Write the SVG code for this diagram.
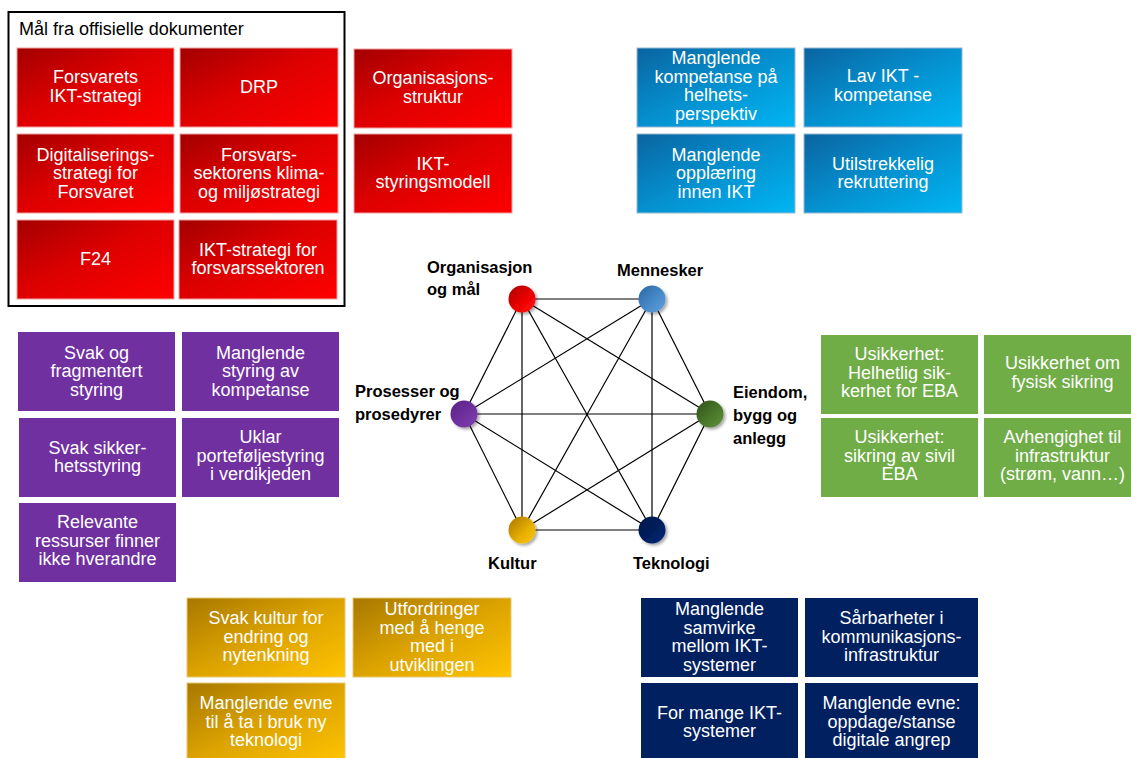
<svg xmlns="http://www.w3.org/2000/svg" width="1131" height="758" viewBox="0 0 1131 758">
<defs>
<linearGradient id="gRed" x1="0" y1="0" x2="1" y2="1"><stop offset="0" stop-color="#a30000"/><stop offset="0.45" stop-color="#dc0000"/><stop offset="1" stop-color="#ff0000"/></linearGradient>
<linearGradient id="gBlue" x1="0" y1="0" x2="1" y2="1"><stop offset="0" stop-color="#0a64a0"/><stop offset="0.5" stop-color="#0590cf"/><stop offset="1" stop-color="#00b6f2"/></linearGradient>
<linearGradient id="gGold" x1="0" y1="0" x2="1" y2="1"><stop offset="0" stop-color="#a87800"/><stop offset="0.5" stop-color="#dca300"/><stop offset="1" stop-color="#ffc400"/></linearGradient>
<linearGradient id="cRed" x1="0" y1="0" x2="1" y2="1"><stop offset="0" stop-color="#a80000"/><stop offset="0.6" stop-color="#f00000"/><stop offset="1" stop-color="#ff1a1a"/></linearGradient>
<linearGradient id="cBlue" x1="0" y1="0" x2="1" y2="1"><stop offset="0" stop-color="#2a66a0"/><stop offset="0.6" stop-color="#4a8ccc"/><stop offset="1" stop-color="#5fa0dc"/></linearGradient>
<linearGradient id="cGreen" x1="0" y1="0" x2="1" y2="1"><stop offset="0" stop-color="#2f5219"/><stop offset="0.6" stop-color="#4c7a2c"/><stop offset="1" stop-color="#5f913a"/></linearGradient>
<linearGradient id="cPurple" x1="0" y1="0" x2="1" y2="1"><stop offset="0" stop-color="#5a2284"/><stop offset="0.6" stop-color="#7232a2"/><stop offset="1" stop-color="#8040b0"/></linearGradient>
<linearGradient id="cGold" x1="0" y1="0" x2="1" y2="1"><stop offset="0" stop-color="#a87400"/><stop offset="0.6" stop-color="#e8b000"/><stop offset="1" stop-color="#ffc800"/></linearGradient>
<linearGradient id="cNavy" x1="0" y1="0" x2="1" y2="1"><stop offset="0" stop-color="#00164a"/><stop offset="0.6" stop-color="#002060"/><stop offset="1" stop-color="#00297a"/></linearGradient>
<filter id="sh" x="-50%" y="-50%" width="200%" height="200%"><feDropShadow dx="2" dy="2" stdDeviation="1.5" flood-color="#000" flood-opacity="0.35"/></filter>
</defs>
<style>
.bt{font-family:"Liberation Sans",Arial,sans-serif;font-size:18px;fill:#ffffff;text-anchor:middle}
.nl{font-family:"Liberation Sans",Arial,sans-serif;font-size:16.5px;font-weight:bold;fill:#000000}
.red{fill:url(#gRed);stroke:#f0a0a0;stroke-width:1}
.blue{fill:url(#gBlue);stroke:#9ab8d2;stroke-width:1}
.gold{fill:url(#gGold);stroke:#e8c870;stroke-width:1}
.purple{fill:#7030a0}
.green{fill:#70ad47}
.navy{fill:#002060}
.edge{stroke:#000;stroke-width:1.2;fill:none}
.node{filter:url(#sh)}
</style>
<rect width="1131" height="758" fill="#ffffff"/>

<g id="frame">
<rect x="8.5" y="12" width="336" height="294" fill="none" stroke="#000" stroke-width="2"/>
<text x="19" y="35" font-family="Liberation Sans,Arial,sans-serif" font-size="18" fill="#000">Mål fra offisielle dokumenter</text>
</g>

<g id="red-boxes">
<g id="r1"><rect class="red" x="17" y="48" width="157" height="79"/><text class="bt"><tspan x="95.5" y="83">Forsvarets</tspan><tspan x="95.5" y="101.5">IKT-strategi</tspan></text></g>
<g id="r2"><rect class="red" x="180" y="48" width="158" height="79"/><text class="bt"><tspan x="259" y="93">DRP</tspan></text></g>
<g id="r3"><rect class="red" x="17" y="134" width="157" height="79"/><text class="bt"><tspan x="95.5" y="160.5">Digitaliserings-</tspan><tspan x="95.5" y="179">strategi for</tspan><tspan x="95.5" y="197.5">Forsvaret</tspan></text></g>
<g id="r4"><rect class="red" x="180" y="134" width="158" height="79"/><text class="bt"><tspan x="259" y="160.5">Forsvars-</tspan><tspan x="259" y="179">sektorens klima-</tspan><tspan x="259" y="197.5">og miljøstrategi</tspan></text></g>
<g id="r5"><rect class="red" x="17" y="220" width="157" height="79"/><text class="bt"><tspan x="95.5" y="265">F24</tspan></text></g>
<g id="r6"><rect class="red" x="179" y="220" width="158" height="79"/><text class="bt"><tspan x="258" y="255.5">IKT-strategi for</tspan><tspan x="258" y="274">forsvarssektoren</tspan></text></g>
<g id="r7"><rect class="red" x="354" y="49" width="158" height="79"/><text class="bt"><tspan x="433" y="84">Organisasjons-</tspan><tspan x="433" y="102.5">struktur</tspan></text></g>
<g id="r8"><rect class="red" x="354" y="134" width="158" height="79"/><text class="bt"><tspan x="433" y="169.5">IKT-</tspan><tspan x="433" y="188">styringsmodell</tspan></text></g>
</g>

<g id="blue-boxes">
<g id="b1"><rect class="blue" x="637" y="48" width="158" height="79"/><text class="bt"><tspan x="716" y="64">Manglende</tspan><tspan x="716" y="82.5">kompetanse på</tspan><tspan x="716" y="101">helhets-</tspan><tspan x="716" y="119.5">perspektiv</tspan></text></g>
<g id="b2"><rect class="blue" x="804" y="48" width="158" height="79"/><text class="bt"><tspan x="883" y="82">Lav IKT -</tspan><tspan x="883" y="100.5">kompetanse</tspan></text></g>
<g id="b3"><rect class="blue" x="637" y="134" width="158" height="79"/><text class="bt"><tspan x="716" y="160.5">Manglende</tspan><tspan x="716" y="179">opplæring</tspan><tspan x="716" y="197.5">innen IKT</tspan></text></g>
<g id="b4"><rect class="blue" x="804" y="134" width="158" height="79"/><text class="bt"><tspan x="883" y="169.5">Utilstrekkelig</tspan><tspan x="883" y="188">rekruttering</tspan></text></g>
</g>

<g id="purple-boxes">
<g id="p1"><rect class="purple" x="18" y="332" width="157" height="79"/><text class="bt"><tspan x="96.5" y="358.5">Svak og</tspan><tspan x="96.5" y="377">fragmentert</tspan><tspan x="96.5" y="395.5">styring</tspan></text></g>
<g id="p2"><rect class="purple" x="182" y="332" width="157" height="79"/><text class="bt"><tspan x="260.5" y="358.5">Manglende</tspan><tspan x="260.5" y="377">styring av</tspan><tspan x="260.5" y="395.5">kompetanse</tspan></text></g>
<g id="p3"><rect class="purple" x="19" y="418" width="157" height="79"/><text class="bt"><tspan x="97.5" y="453.5">Svak sikker-</tspan><tspan x="97.5" y="472">hetsstyring</tspan></text></g>
<g id="p4"><rect class="purple" x="182" y="418" width="157" height="79"/><text class="bt"><tspan x="260.5" y="443">Uklar</tspan><tspan x="260.5" y="461.5">porteføljestyring</tspan><tspan x="260.5" y="480">i verdikjeden</tspan></text></g>
<g id="p5"><rect class="purple" x="19" y="503" width="157" height="79"/><text class="bt"><tspan x="97.5" y="528">Relevante</tspan><tspan x="97.5" y="546.5">ressurser finner</tspan><tspan x="97.5" y="565">ikke hverandre</tspan></text></g>
</g>

<g id="green-boxes">
<g id="gr1"><rect class="green" x="821" y="335" width="157" height="79"/><text class="bt"><tspan x="899.5" y="360">Usikkerhet:</tspan><tspan x="899.5" y="378.5">Helhetlig sik-</tspan><tspan x="899.5" y="397">kerhet for EBA</tspan></text></g>
<g id="gr2"><rect class="green" x="984" y="335" width="157" height="79"/><text class="bt"><tspan x="1062.5" y="369">Usikkerhet om</tspan><tspan x="1062.5" y="387.5">fysisk sikring</tspan></text></g>
<g id="gr3"><rect class="green" x="821" y="418" width="157" height="79"/><text class="bt"><tspan x="899.5" y="443">Usikkerhet:</tspan><tspan x="899.5" y="461.5">sikring av sivil</tspan><tspan x="899.5" y="480">EBA</tspan></text></g>
<g id="gr4"><rect class="green" x="984" y="418" width="157" height="79"/><text class="bt"><tspan x="1062.5" y="443">Avhengighet til</tspan><tspan x="1062.5" y="461.5">infrastruktur</tspan><tspan x="1062.5" y="480">(strøm, vann…)</tspan></text></g>
</g>

<g id="gold-boxes">
<g id="y1"><rect class="gold" x="187" y="598" width="158" height="79"/><text class="bt"><tspan x="266" y="624">Svak kultur for</tspan><tspan x="266" y="642.5">endring og</tspan><tspan x="266" y="661">nytenkning</tspan></text></g>
<g id="y2"><rect class="gold" x="353" y="598" width="158" height="79"/><text class="bt"><tspan x="432" y="615">Utfordringer</tspan><tspan x="432" y="633.5">med å henge</tspan><tspan x="432" y="652">med i</tspan><tspan x="432" y="670.5">utviklingen</tspan></text></g>
<g id="y3"><rect class="gold" x="187" y="683" width="158" height="79"/><text class="bt"><tspan x="266" y="709">Manglende evne</tspan><tspan x="266" y="727.5">til å ta i bruk ny</tspan><tspan x="266" y="746">teknologi</tspan></text></g>
</g>

<g id="navy-boxes">
<g id="n1"><rect class="navy" x="641" y="598" width="157" height="79"/><text class="bt"><tspan x="719.5" y="615">Manglende</tspan><tspan x="719.5" y="633.5">samvirke</tspan><tspan x="719.5" y="652">mellom IKT-</tspan><tspan x="719.5" y="670.5">systemer</tspan></text></g>
<g id="n2"><rect class="navy" x="805" y="598" width="173" height="79"/><text class="bt"><tspan x="891.5" y="624">Sårbarheter i</tspan><tspan x="891.5" y="642.5">kommunikasjons-</tspan><tspan x="891.5" y="661">infrastruktur</tspan></text></g>
<g id="n3"><rect class="navy" x="641" y="683" width="157" height="79"/><text class="bt"><tspan x="719.5" y="718.5">For mange IKT-</tspan><tspan x="719.5" y="737">systemer</tspan></text></g>
<g id="n4"><rect class="navy" x="805" y="683" width="173" height="79"/><text class="bt"><tspan x="891.5" y="709">Manglende evne:</tspan><tspan x="891.5" y="727.5">oppdage/stanse</tspan><tspan x="891.5" y="746">digitale angrep</tspan></text></g>
</g>

<g id="connectors">
<line class="edge" x1="522" y1="299" x2="652" y2="299"/>
<line class="edge" x1="522" y1="299" x2="710" y2="414"/>
<line class="edge" x1="522" y1="299" x2="464" y2="414"/>
<line class="edge" x1="522" y1="299" x2="522" y2="530"/>
<line class="edge" x1="522" y1="299" x2="652" y2="530"/>
<line class="edge" x1="652" y1="299" x2="710" y2="414"/>
<line class="edge" x1="652" y1="299" x2="464" y2="414"/>
<line class="edge" x1="652" y1="299" x2="522" y2="530"/>
<line class="edge" x1="652" y1="299" x2="652" y2="530"/>
<line class="edge" x1="464" y1="414" x2="710" y2="414"/>
<line class="edge" x1="464" y1="414" x2="522" y2="530"/>
<line class="edge" x1="464" y1="414" x2="652" y2="530"/>
<line class="edge" x1="710" y1="414" x2="522" y2="530"/>
<line class="edge" x1="710" y1="414" x2="652" y2="530"/>
<line class="edge" x1="522" y1="530" x2="652" y2="530"/>
</g>

<g id="node-org"><circle class="node" cx="522" cy="299" r="13.5" fill="url(#cRed)"/><text class="nl"><tspan x="427" y="273">Organisasjon</tspan><tspan x="427" y="295">og mål</tspan></text></g>
<g id="node-mennesker"><circle class="node" cx="652" cy="299" r="13.5" fill="url(#cBlue)"/><text class="nl" x="617" y="276">Mennesker</text></g>
<g id="node-eiendom"><circle class="node" cx="710" cy="414" r="13.5" fill="url(#cGreen)"/><text class="nl"><tspan x="733" y="398">Eiendom,</tspan><tspan x="733" y="421">bygg og</tspan><tspan x="733" y="444">anlegg</tspan></text></g>
<g id="node-prosesser"><circle class="node" cx="464" cy="414" r="13.5" fill="url(#cPurple)"/><text class="nl"><tspan x="355" y="397">Prosesser og</tspan><tspan x="355" y="420">prosedyrer</tspan></text></g>
<g id="node-kultur"><circle class="node" cx="522" cy="530" r="13.5" fill="url(#cGold)"/><text class="nl" x="488" y="569">Kultur</text></g>
<g id="node-teknologi"><circle class="node" cx="652" cy="530" r="13.5" fill="url(#cNavy)"/><text class="nl" x="633" y="569">Teknologi</text></g>
</svg>
